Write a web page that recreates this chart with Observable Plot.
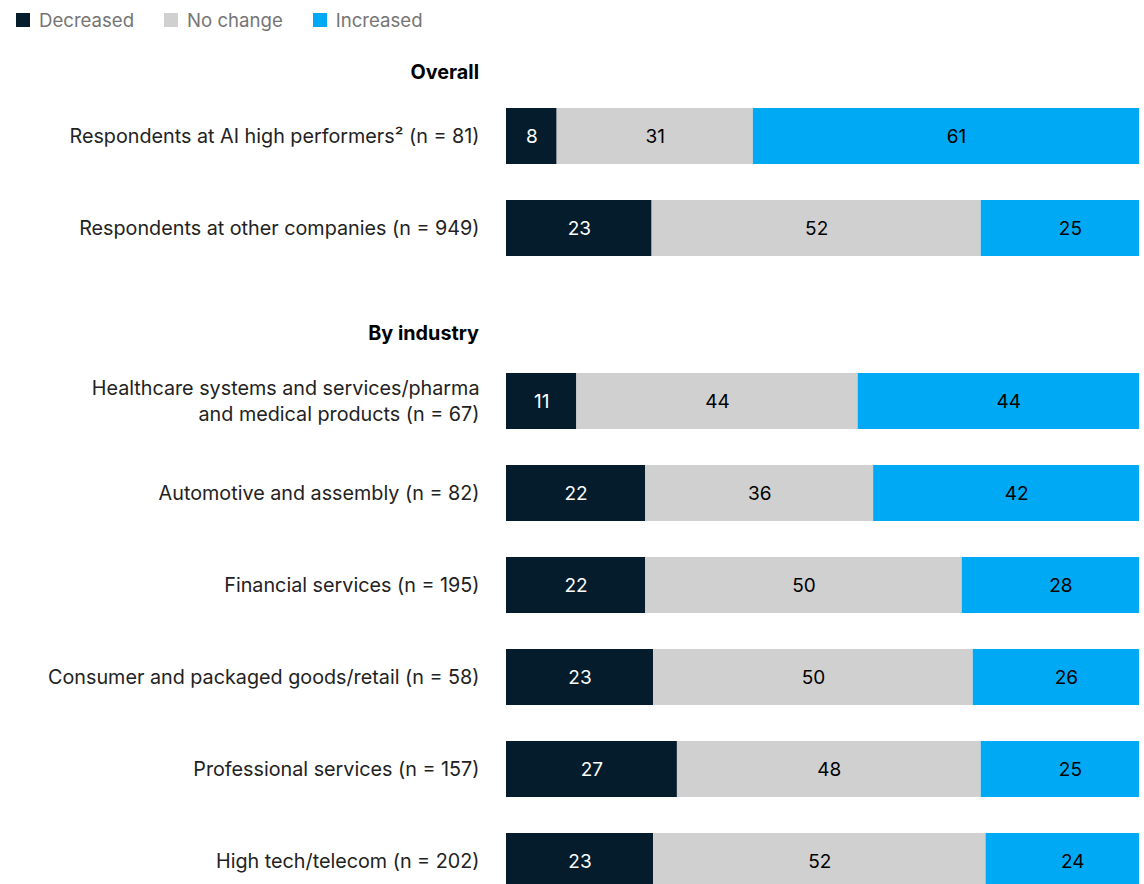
<!DOCTYPE html>
<html>
<head>
<meta charset="utf-8">
<script src="https://cdn.jsdelivr.net/npm/d3@7"></script>
<script src="https://cdn.jsdelivr.net/npm/@observablehq/plot@0.6"></script>
<style>
  html, body { margin: 0; padding: 0; background: #fff; }
  body { position: relative; width: 1144px; height: 884px; overflow: hidden; font-family: Inter, "Liberation Sans", sans-serif; }
  #legend { position: absolute; left: 16px; top: 0; height: 40px; display: flex; align-items: center; font-size: 18.6px; color: #757575; }
  .item { display: flex; align-items: center; margin-right: 30px; }
  .sw { width: 14px; height: 14px; margin-right: 9px; }
  .heading { position: absolute; right: 665px; font-weight: 700; font-size: 19.8px; color: #000; line-height: 24px; }
  .plot { position: absolute; left: 0; }
</style>
</head>
<body>
<div id="legend"></div>
<div class="heading" style="top:60px">Overall</div>
<div class="heading" style="top:321px">By industry</div>
<div class="plot" id="p1" style="top:90px"></div>
<div class="plot" id="p2" style="top:355px"></div>
<script>
const categories = ["Decreased", "No change", "Increased"];
const colors = ["#051c2c", "#d0d0d0", "#00a9f4"];

const overallRows = [
  "Respondents at AI high performers² (n = 81)",
  "Respondents at other companies (n = 949)"
];
const overallDecreased = [8, 23];
const overallNoChange = [31, 52];
const overallIncreased = [61, 25];

const industryRows = [
  "Healthcare systems and services/pharma\nand medical products (n = 67)",
  "Automotive and assembly (n = 82)",
  "Financial services (n = 195)",
  "Consumer and packaged goods/retail (n = 58)",
  "Professional services (n = 157)",
  "High tech/telecom (n = 202)"
];
const industryDecreased = [11, 22, 22, 23, 27, 23];
const industryNoChange = [44, 36, 50, 50, 48, 52];
const industryIncreased = [44, 42, 28, 26, 25, 24];

// legend
const legend = document.getElementById("legend");
categories.forEach((c, i) => {
  const it = document.createElement("div");
  it.className = "item";
  it.innerHTML = `<span class="sw" style="background:${colors[i]}"></span><span>${c}</span>`;
  legend.appendChild(it);
});

function tidy(rows, dec, nc, inc) {
  const out = [];
  rows.forEach((r, i) => {
    out.push({row: r, cat: categories[0], value: dec[i]});
    out.push({row: r, cat: categories[1], value: nc[i]});
    out.push({row: r, cat: categories[2], value: inc[i]});
  });
  return out;
}

const step = 92, band = 56;
const pInner = (step - band) / step;
const pOuter = 18 / step;

function chart(rows, data) {
  const height = step * rows.length;
  const stack = (extra) => Plot.stackX({x: "value", y: "row", offset: "normalize", ...extra});
  const lab = (pred) => (d) => pred(d.cat) ? String(d.value) : "";
  return Plot.plot({
    width: 1144,
    height,
    marginLeft: 506,
    marginRight: 5,
    marginTop: 0,
    marginBottom: 0,
    style: {fontFamily: "Inter, 'Liberation Sans', sans-serif", fontSize: "19.75px", color: "#000", background: "#fff"},
    x: {axis: null},
    y: {domain: rows, paddingInner: pInner, paddingOuter: pOuter, label: null},
    color: {domain: categories, range: colors},
    marks: [
      Plot.barX(data, stack({fill: "cat"})),
      Plot.axisY({tickSize: 0, tickPadding: 27, fontSize: 19.75, lineHeight: 1.32, dy: -2, label: null, fill: "#222"}),
      Plot.text(data, stack({text: lab(c => c === "Decreased"), fill: "white", fontSize: 19})),
      Plot.text(data, stack({text: lab(c => c === "No change"), fill: "black", fontSize: 19})),
      Plot.text(data, stack({text: lab(c => c === "Increased"), fill: "black", fontSize: 19, dx: 10}))
    ]
  });
}

document.getElementById("p1").appendChild(chart(overallRows, tidy(overallRows, overallDecreased, overallNoChange, overallIncreased)));
document.getElementById("p2").appendChild(chart(industryRows, tidy(industryRows, industryDecreased, industryNoChange, industryIncreased)));
</script>
</body>
</html>
